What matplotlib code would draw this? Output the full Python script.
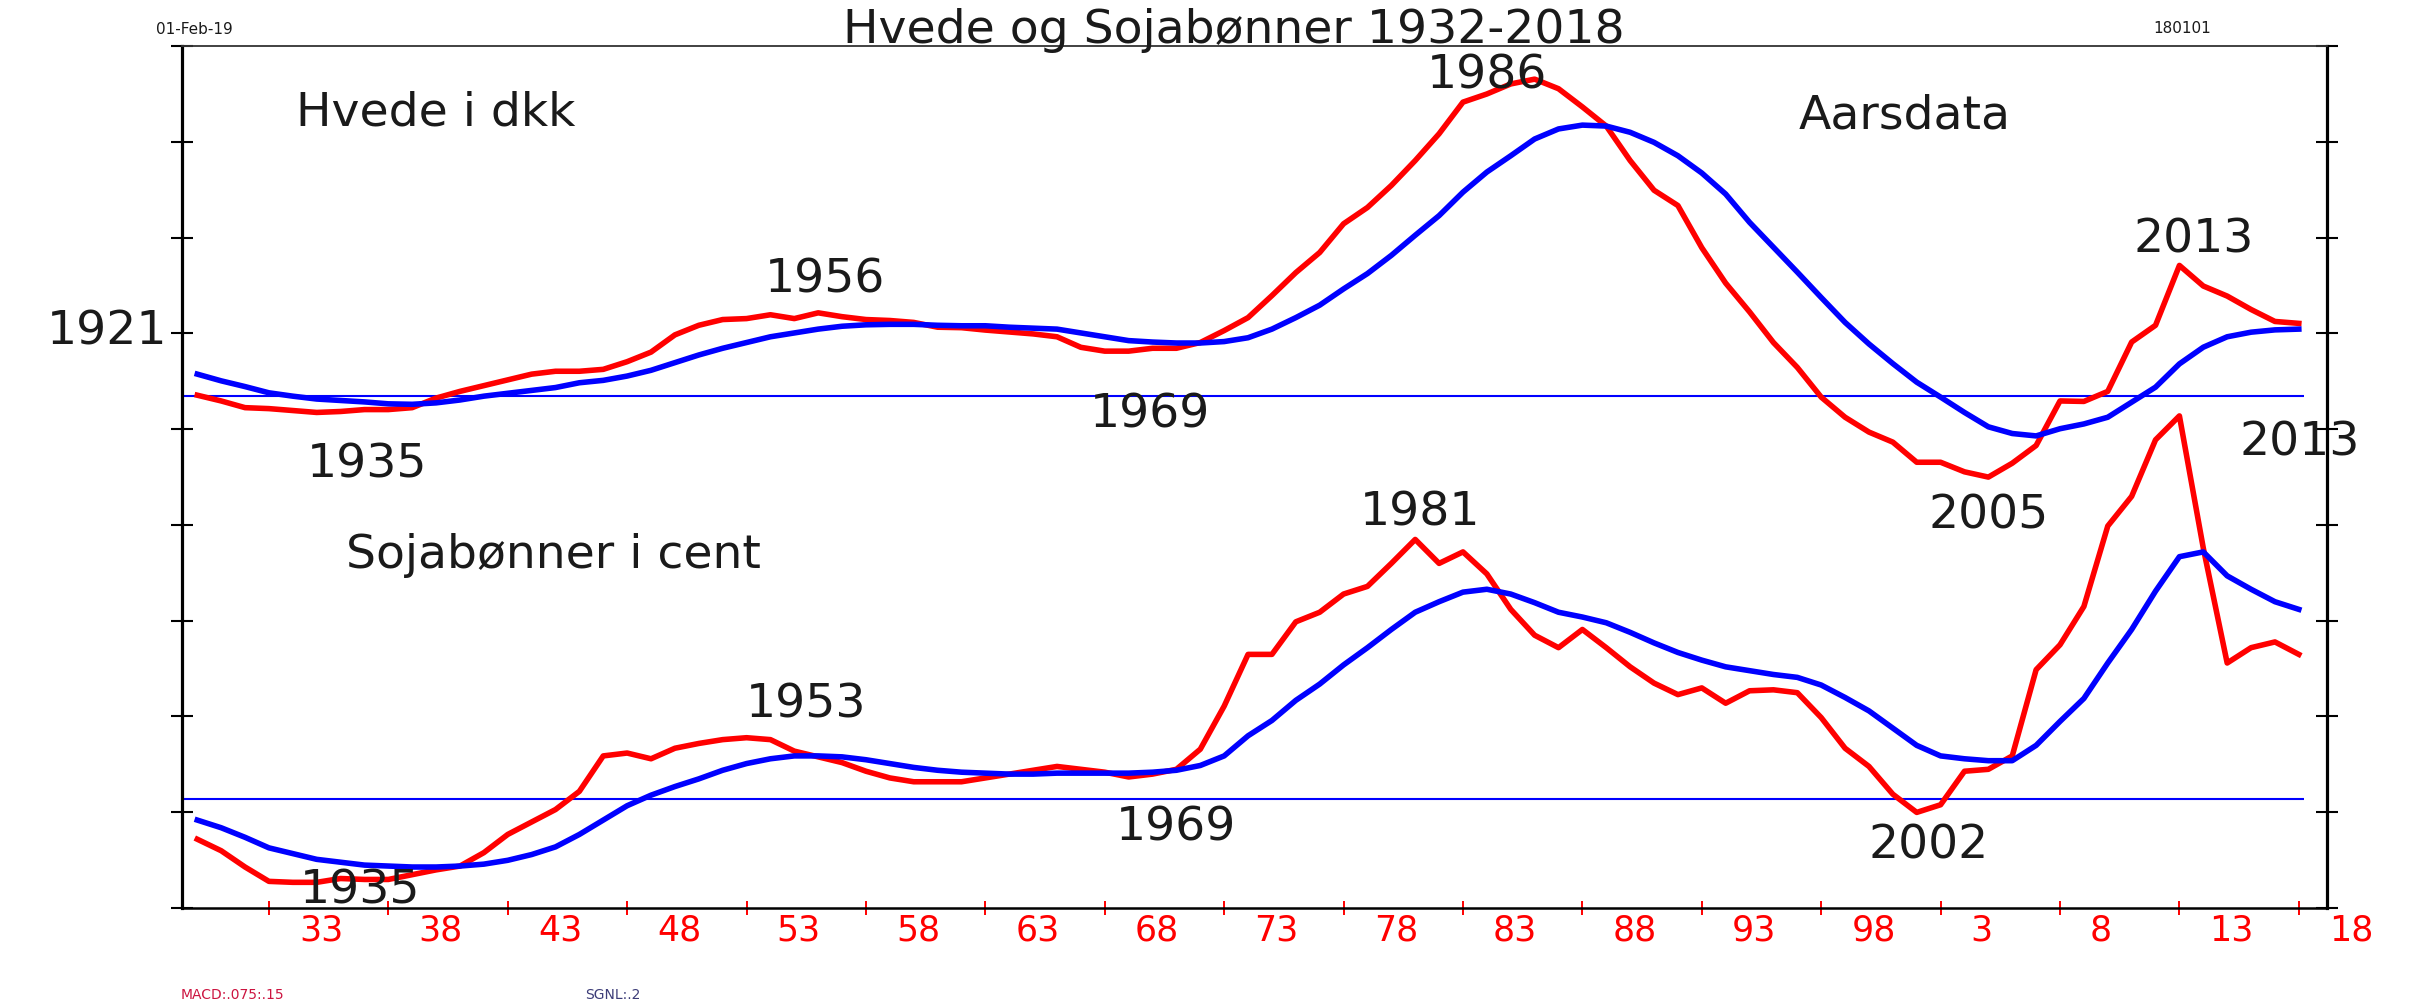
import numpy as np
import matplotlib
matplotlib.use("Agg")
import matplotlib.pyplot as plt
from matplotlib.transforms import blended_transform_factory

plt.rcParams['font.family'] = ['DejaVu Sans']

# years 1930..2018
years = np.arange(1930, 2019)

# Hvede (top panel), values in tick units relative to the zero line
hvede_macd = [0.01, -0.05, -0.12, -0.13, -0.15, -0.17, -0.16, -0.14, -0.14, -0.12,
              -0.02, 0.05, 0.11, 0.17, 0.23, 0.26, 0.26, 0.28, 0.36, 0.46,
              0.64, 0.74, 0.80, 0.81, 0.85, 0.81, 0.87, 0.83, 0.80, 0.79,
              0.77, 0.72, 0.715, 0.69, 0.67, 0.65, 0.62, 0.51, 0.47, 0.47,
              0.50, 0.50, 0.56, 0.685, 0.82, 1.05, 1.29, 1.50, 1.80, 1.97,
              2.20, 2.46, 2.74, 3.07, 3.155, 3.26, 3.31, 3.21, 3.02, 2.82,
              2.46, 2.15, 1.99, 1.55, 1.18, 0.88, 0.56, 0.30, -0.01, -0.22,
              -0.375, -0.48, -0.69, -0.69, -0.79, -0.845, -0.70, -0.515, -0.05, -0.055,
              0.05, 0.565, 0.74, 1.365, 1.15, 1.045, 0.905, 0.78, 0.76]
hvede_sgnl = [0.23, 0.16, 0.10, 0.035, 0.00, -0.03, -0.045, -0.06, -0.08, -0.085,
              -0.07, -0.04, 0.00, 0.03, 0.06, 0.09, 0.14, 0.165, 0.21, 0.27,
              0.35, 0.43, 0.50, 0.56, 0.62, 0.66, 0.70, 0.73, 0.745, 0.75,
              0.75, 0.74, 0.735, 0.735, 0.72, 0.71, 0.70, 0.66, 0.62, 0.58,
              0.565, 0.555, 0.555, 0.57, 0.61, 0.70, 0.82, 0.95, 1.12, 1.28,
              1.47, 1.68, 1.885, 2.13, 2.34, 2.51, 2.685, 2.79, 2.83, 2.82,
              2.755, 2.65, 2.51, 2.33, 2.11, 1.815, 1.555, 1.295, 1.03, 0.77,
              0.545, 0.34, 0.146, -0.01, -0.17, -0.32, -0.39, -0.415, -0.34, -0.29,
              -0.22, -0.063, 0.094, 0.337, 0.511, 0.62, 0.668, 0.692, 0.70]

# Sojabønner (bottom panel)
soja_macd = [-0.42, -0.54, -0.71, -0.86, -0.87, -0.87, -0.83, -0.84, -0.84, -0.79,
             -0.74, -0.70, -0.56, -0.37, -0.24, -0.11, 0.08, 0.45, 0.48, 0.42,
             0.53, 0.58, 0.62, 0.64, 0.62, 0.50, 0.44, 0.38, 0.29, 0.22,
             0.18, 0.18, 0.18, 0.22, 0.26, 0.30, 0.34, 0.31, 0.28, 0.23,
             0.26, 0.31, 0.52, 0.97, 1.51, 1.51, 1.85, 1.95, 2.14, 2.22,
             2.46, 2.71, 2.46, 2.58, 2.35, 1.98, 1.71, 1.58, 1.77, 1.58,
             1.38, 1.21, 1.09, 1.16, 1.00, 1.13, 1.14, 1.11, 0.85, 0.53,
             0.34, 0.05, -0.14, -0.06, 0.29, 0.31, 0.45, 1.35, 1.61, 2.01,
             2.85, 3.16, 3.75, 4.00, 2.62, 1.42, 1.58, 1.64, 1.51]
soja_sgnl = [-0.22, -0.30, -0.40, -0.51, -0.57, -0.63, -0.66, -0.69, -0.70, -0.71,
             -0.71, -0.70, -0.68, -0.64, -0.58, -0.50, -0.37, -0.22, -0.07, 0.04,
             0.13, 0.21, 0.30, 0.37, 0.42, 0.45, 0.45, 0.44, 0.41, 0.37,
             0.33, 0.30, 0.28, 0.27, 0.26, 0.26, 0.27, 0.27, 0.27, 0.27,
             0.28, 0.30, 0.35, 0.45, 0.66, 0.82, 1.03, 1.20, 1.40, 1.58,
             1.77, 1.95, 2.06, 2.16, 2.19, 2.14, 2.05, 1.95, 1.90, 1.84,
             1.74, 1.63, 1.53, 1.45, 1.38, 1.34, 1.30, 1.27, 1.19, 1.06,
             0.92, 0.74, 0.56, 0.45, 0.42, 0.40, 0.40, 0.56, 0.81, 1.05,
             1.42, 1.77, 2.17, 2.53, 2.58, 2.33, 2.19, 2.06, 1.98]

tick_years = np.arange(1933, 2019, 5)
tick_labels = ['33', '38', '43', '48', '53', '58', '63', '68', '73', '78',
               '83', '88', '93', '98', '3', '8', '13', '18']

# panel zero lines (in tick units on a 0..9 axis)
top_base = 5.344
bot_base = 1.138

# year annotations: (text, year, level)
notes = [('1935', 1937.1, 4.51), ('1956', 1956.3, 6.44), ('1969', 1969.9, 5.03),
         ('1986', 1984.0, 8.57), ('2013', 2013.6, 6.85), ('2005', 2005.0, 3.97),
         ('2013', 2018.05, 4.74), ('1981', 1981.2, 4.00), ('1953', 1955.5, 2.00),
         ('1969', 1971.0, 0.71), ('2002', 2002.5, 0.53), ('1935', 1936.8, 0.06)]

W, H = 2420, 1004
fig = plt.figure(figsize=(W / 100, H / 100), dpi=100)
ax = fig.add_axes([182 / W, 95 / H, (2327 - 182) / W, (909 - 47) / H])
ax.set_xlim(1929.36, 2019.18)
ax.set_ylim(0, 9)

ax.hlines([top_base, bot_base], 1929.36, 2018.2, color='#0000ff', lw=1.5, zorder=1)

ax.plot(years, top_base + np.array(hvede_macd), color='#ff0000', lw=4, solid_joinstyle='round', zorder=2)
ax.plot(years, top_base + np.array(hvede_sgnl), color='#0000ff', lw=4, solid_joinstyle='round', zorder=3)
ax.plot(years, bot_base + np.array(soja_macd), color='#ff0000', lw=4, solid_joinstyle='round', zorder=2)
ax.plot(years, bot_base + np.array(soja_sgnl), color='#0000ff', lw=4, solid_joinstyle='round', zorder=3)

# frame
for s in ['left', 'right']:
    ax.spines[s].set_linewidth(2.3)
    ax.spines[s].set_color('black')
ax.spines['top'].set_linewidth(1.3)
ax.spines['top'].set_color('#333333')
ax.spines['bottom'].set_linewidth(1.8)
ax.spines['bottom'].set_color('black')

ax.set_yticks(np.arange(0, 10))
ax.set_yticklabels([])
ax.tick_params(axis='y', left=True, right=True, direction='inout', length=16, width=1.5, color='black')
ax.set_xticks(tick_years)
ax.set_xticklabels([])
ax.tick_params(axis='x', bottom=True, direction='inout', length=10, width=1.4, color='#ff0000')

trans = blended_transform_factory(ax.transData, ax.transAxes)
for yr, lab in zip(tick_years, tick_labels):
    ax.text(yr + 1.26, -0.037, lab, transform=trans, ha='left', va='baseline',
            fontsize=25, color='#ff0000')

txt = '#1a1a1a'
for lab, x, y in notes:
    ax.text(x, y, lab, ha='center', va='baseline', fontsize=34, color=txt, zorder=5)

ax.text(1940.0, 8.18, 'Hvede i dkk', ha='center', va='baseline', fontsize=34, color=txt)
ax.text(1944.9, 3.56, 'Sojabønner i cent', ha='center', va='baseline', fontsize=34, color=txt)
ax.text(2001.5, 8.15, 'Aarsdata', ha='center', va='baseline', fontsize=34, color=txt)
ax.text(1928.73, 5.89, '1921', ha='right', va='baseline', fontsize=34, color=txt, clip_on=False)

fig.text(1234 / W, 1 - 43 / H, 'Hvede og Sojabønner 1932-2018', ha='center', va='baseline',
         fontsize=34, color=txt)
fig.text(156 / W, 1 - 34 / H, '01-Feb-19', ha='left', va='baseline', fontsize=11, color=txt)
fig.text(2182 / W, 1 - 33 / H, '180101', ha='center', va='baseline', fontsize=11, color=txt)
fig.text(181 / W, 1 - 999 / H, 'MACD:.075:.15', ha='left', va='baseline', fontsize=10, color='#cc1440')
fig.text(585 / W, 1 - 999 / H, 'SGNL:.2', ha='left', va='baseline', fontsize=10, color='#3c3c78')

fig.savefig('out.png', dpi=100)
